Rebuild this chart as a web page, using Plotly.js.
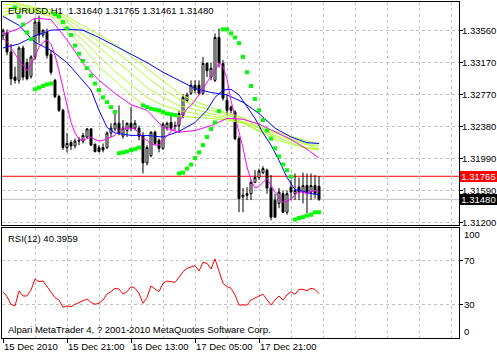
<!DOCTYPE html>
<html><head><meta charset="utf-8">
<script src="https://cdn.plot.ly/plotly-3.0.1.min.js"></script>
<style>html,body{margin:0;padding:0;background:#fff;}#chart{width:497px;height:355px;}</style>
</head><body><div id="chart"></div>
<script>
// ---- candle data (EURUSD, H1) ----
const open = [1.3350,1.3354,1.3330,1.3299,1.3295,1.3335,1.3317,1.3300,1.3324,1.3367,
1.3351,1.3354,1.3327,1.3295,1.3275,1.3258,1.3212,1.3218,1.3214,1.3221,
1.3220,1.3225,1.3235,1.3216,1.3212,1.3212,1.3212,1.3230,1.3235,1.3242,
1.3226,1.3233,1.3242,1.3236,1.3236,1.3227,1.3193,1.3202,1.3231,1.3221,
1.3211,1.3236,1.3243,1.3239,1.3239,1.3252,1.3270,1.3279,1.3289,1.3289,
1.3279,1.3316,1.3299,1.3295,1.3348,1.3316,1.3270,1.3262,1.3256,1.3223,
1.3151,1.3155,1.3155,1.3169,1.3175,1.3181,1.3184,1.3162,1.3147,1.3143,
1.3155,1.3132,1.3163,1.3155,1.3163,1.3157,1.3165,1.3157,1.3165,1.31640];
const high = [1.3359,1.3358,1.3340,1.3312,1.3337,1.3338,1.3322,1.3326,1.3372,1.3375,
1.3358,1.3359,1.3332,1.3297,1.3277,1.3260,1.3230,1.3221,1.3223,1.3225,
1.3230,1.3236,1.3236,1.3217,1.3215,1.3217,1.3232,1.3242,1.3254,1.3264,
1.3246,1.3243,1.3262,1.3246,1.3239,1.3231,1.3215,1.3232,1.3233,1.3223,
1.3243,1.3244,1.3252,1.3244,1.3257,1.3278,1.3280,1.3295,1.3295,1.3295,
1.3324,1.3317,1.3317,1.3353,1.3359,1.3320,1.3277,1.3264,1.3258,1.3226,
1.3162,1.3163,1.3172,1.3184,1.3186,1.3189,1.3186,1.3178,1.3155,1.3162,
1.3159,1.3159,1.3172,1.3180,1.3175,1.3181,1.3180,1.3180,1.3178,1.31765];
const low = [1.3345,1.3326,1.3289,1.3291,1.3291,1.3295,1.3295,1.3297,1.3320,1.3341,
1.3348,1.3322,1.3302,1.3273,1.3256,1.3209,1.3206,1.3209,1.3211,1.3215,
1.3217,1.3223,1.3214,1.3206,1.3206,1.3206,1.3210,1.3225,1.3232,1.3227,
1.3223,1.3225,1.3232,1.3233,1.3221,1.3180,1.3190,1.3200,1.3215,1.3206,
1.3209,1.3233,1.3233,1.3233,1.3230,1.3248,1.3268,1.3277,1.3279,1.3277,
1.3277,1.3299,1.3295,1.3293,1.3311,1.3270,1.3252,1.3254,1.3221,1.3132,
1.3132,1.3147,1.3147,1.3168,1.3172,1.3179,1.3155,1.3122,1.3125,1.3137,
1.3131,1.3129,1.3147,1.3147,1.3147,1.3143,1.3131,1.3147,1.3149,1.31461];
const close = [1.3357,1.3330,1.3297,1.3295,1.3335,1.3299,1.3297,1.3324,1.3367,1.3351,
1.3357,1.3326,1.3305,1.3275,1.3258,1.3212,1.3217,1.3214,1.3220,1.3220,
1.3227,1.3235,1.3215,1.3207,1.3207,1.3209,1.3230,1.3236,1.3242,1.3230,
1.3236,1.3242,1.3236,1.3242,1.3226,1.3193,1.3212,1.3231,1.3217,1.3211,
1.3241,1.3242,1.3236,1.3238,1.3254,1.3274,1.3277,1.3289,1.3283,1.3279,
1.3316,1.3307,1.3310,1.3348,1.3316,1.3273,1.3258,1.3258,1.3223,1.3149,
1.3153,1.3153,1.3169,1.3175,1.3183,1.3186,1.3162,1.3126,1.3126,1.3157,
1.3132,1.3155,1.3157,1.3159,1.3157,1.3165,1.3155,1.3165,1.3155,1.31480];

// ---- moving averages ----
const maBars = [0,4,8,12,16,20,24,28,32,36,40,44,48,52,56,60,64,68,72,76,79];
const blueSlow = [1.3335,1.3340,1.3350,1.3357,1.3358,1.3357,1.3348,1.3338,1.3328,1.3317,1.3305,1.3295,1.3285,1.3280,1.3277,1.3268,1.3254,1.3236,1.3225,1.3218,1.3217];
const magentaSlow = [1.3352,1.3359,1.3372,1.3370,1.3345,1.3316,1.3295,1.3279,1.3265,1.3258,1.3237,1.3231,1.3233,1.3239,1.3248,1.3247,1.3241,1.3232,1.3222,1.3210,1.3199];
const green1 = [1.3393,1.3390,1.3385,1.3382,1.3374,1.3363,1.3352,1.3340,1.3325,1.3310,1.3295,1.3279,1.3269,1.3262,1.3254,1.3249,1.3239,1.3232,1.3226,1.3220,1.3216];
const green2 = [1.3389,1.3388,1.3383,1.3379,1.3371,1.3357,1.3343,1.3331,1.3316,1.3299,1.3284,1.3272,1.3264,1.3258,1.3252,1.3247,1.3237,1.3230,1.3223,1.3217,1.3214];
const green3 = [1.3384,1.3385,1.3382,1.3378,1.3367,1.3351,1.3335,1.3319,1.3304,1.3286,1.3274,1.3264,1.3259,1.3254,1.3249,1.3244,1.3236,1.3227,1.3221,1.3215,1.3211];
const green4 = [1.3379,1.3383,1.3380,1.3377,1.3362,1.3345,1.3325,1.3306,1.3290,1.3274,1.3264,1.3258,1.3254,1.3251,1.3247,1.3243,1.3233,1.3225,1.3218,1.3212,1.3210];
const green5 = [1.3375,1.3380,1.3379,1.3374,1.3356,1.3336,1.3312,1.3294,1.3277,1.3262,1.3253,1.3251,1.3249,1.3248,1.3246,1.3242,1.3232,1.3222,1.3216,1.3211,1.3209];

const blueFastBars = [0,4,8,12,16,20,22,24,26,28,32,36,40,44,48,51,53,55,57,59,61,63,65,67,69,71,73,75,77,79];
const blueFast = [1.3374,1.3363,1.3342,1.3332,1.3317,1.3295,1.3283,1.3258,1.3237,1.3230,1.3227,1.3227,1.3225,1.3232,1.3243,1.3258,1.3274,1.3283,1.3284,1.3277,1.3262,1.3248,1.3230,1.3215,1.3196,1.3175,1.3160,1.3158,1.3155,1.3154];

const magentaFast = [1.3347,1.3342,1.3335,1.3327,1.3320,1.3314,1.3307,1.3314,1.3326,1.3336,
1.3342,1.3345,1.3340,1.3326,1.3307,1.3285,1.3264,1.3243,1.3230,1.3222,
1.3221,1.3223,1.3225,1.3222,1.3220,1.3221,1.3223,1.3225,1.3227,1.3233,
1.3236,1.3236,1.3236,1.3235,1.3230,1.3223,1.3221,1.3217,1.3215,1.3215,
1.3221,1.3227,1.3232,1.3237,1.3243,1.3252,1.3260,1.3264,1.3270,1.3277,
1.3285,1.3293,1.3300,1.3307,1.3317,1.3312,1.3297,1.3270,1.3252,1.3231,
1.3212,1.3188,1.3172,1.3162,1.3164,1.3169,1.3174,1.3165,1.3157,1.3151,
1.3144,1.3146,1.3148,1.3154,1.3157,1.3157,1.3155,1.3158,1.3159,1.3157];

// ---- parabolic SAR ----
const sar = [null,null,null,1.3385,1.3374,1.3364,1.3354,1.3346,1.3284,1.3286,
1.3288,1.3290,1.3291,1.3377,1.3374,1.3367,1.3359,1.3351,1.3338,1.3328,
1.3319,1.3310,1.3301,1.3291,1.3283,1.3274,1.3268,1.3262,1.3256,1.3205,
1.3206,1.3207,1.3209,1.3210,1.3212,1.3264,1.3262,1.3260,1.3259,1.3258,
1.3256,1.3254,1.3253,1.3252,1.3180,1.3181,1.3186,1.3191,1.3199,1.3206,
1.3215,1.3225,1.3235,1.3243,1.3257,1.3358,1.3358,1.3353,1.3348,1.3341,
1.3324,1.3305,1.3288,1.3272,1.3258,1.3246,1.3233,1.3223,1.3211,1.3201,
1.3191,1.3184,1.3176,1.3123,1.3125,1.3126,1.3128,1.3129,1.3132,1.3132];

// ---- RSI(12) ----
const rsi = [42.1,37.6,30.6,29.1,42.7,38.2,38.2,43.6,53.6,51.2,
51.8,46.7,42.7,36.7,34.5,27.9,29.1,28.5,30.6,32.4,
33.6,35.5,32.4,30.6,31.5,34.5,40.0,42.1,45.2,44.5,
40.0,42.1,46.7,45.2,40.6,31.5,36.7,47.3,44.5,42.1,
49.7,51.8,51.2,50.6,55.2,60.3,63.3,64.8,65.8,60.9,
68.8,67.9,62.7,71.8,59.7,49.7,46.7,45.2,39.1,30.0,
30.0,30.0,34.5,36.7,38.2,39.7,34.5,30.0,34.5,38.2,
34.5,39.1,42.1,39.7,44.2,44.2,43.0,45.2,44.2,40.3959];

// ---- axis labels ----
const priceTicks = [1.31200,1.31590,1.31990,1.32380,1.32770,1.33170,1.33560];
const timeLabelBars = [0,16,32,48,64];
const timeLabels = ['15 Dec 2010','15 Dec 21:00','16 Dec 13:00','17 Dec 05:00','17 Dec 21:00'];
const rsiTicks = [30,70];
const rsiEdgeLabels = ['100','0'];
const rsiEdgeLabelPos = [94,5.5];
const symbol = 'EURUSD,H1';

const bar = open.map((_, i) => i);
const n = bar.length - 1;
const FONT = '"Liberation Sans", Arial, sans-serif';
const TF = {family:FONT, size:9.5, color:'#000'};
const GRID = '#c0c0c0';

function line(x, y, color) {
  return {type:'scatter', mode:'lines', x:x, y:y, xaxis:'x', yaxis:'y',
          line:{color:color, width:1}, hoverinfo:'skip'};
}

const traces = [
  {type:'candlestick', x:bar, open:open, high:high, low:low, close:close, xaxis:'x', yaxis:'y',
   increasing:{line:{color:'#000', width:1}, fillcolor:'#fff'},
   decreasing:{line:{color:'#000', width:1}, fillcolor:'#000'},
   whiskerwidth:0, hoverinfo:'skip'},
  line(maBars, green1, '#adff2f'),
  line(maBars, green2, '#adff2f'),
  line(maBars, green3, '#adff2f'),
  line(maBars, green4, '#adff2f'),
  line(maBars, green5, '#adff2f'),
  line(maBars, blueSlow, '#0000ff'),
  line(blueFastBars, blueFast, '#0000ff'),
  line(maBars, magentaSlow, '#ff00ff'),
  line(bar, magentaFast, '#ff00ff'),
  {type:'scatter', mode:'markers', x:bar, y:sar, xaxis:'x', yaxis:'y',
   marker:{symbol:'square', size:4, color:'#00ff00', line:{width:0}}, hoverinfo:'skip'},
  {type:'scatter', mode:'lines', x:bar, y:rsi, xaxis:'x2', yaxis:'y2',
   line:{color:'#ff0000', width:1}, hoverinfo:'skip'}
];

const xRange = [-0.25, 114];
const commonX = {range:xRange, showline:true, mirror:true, linecolor:'#000', linewidth:1,
  zeroline:false, fixedrange:true, showgrid:true, gridcolor:GRID, griddash:'3px,3px', gridwidth:1};

// right-hand axis labels as text placed at the axis values
const lab = {xref:'paper', x:1, xanchor:'left', yanchor:'middle', showarrow:false, font:TF, borderpad:0, borderwidth:0};
const annotations = [];
priceTicks.forEach(v => annotations.push(Object.assign({}, lab, {yref:'y', y:v, xshift:3, text:v.toFixed(5)})));
rsiTicks.forEach(v => annotations.push(Object.assign({}, lab, {yref:'y2', y:v, xshift:5, text:String(v)})));
rsiEdgeLabels.forEach((t, k) => annotations.push(Object.assign({}, lab, {yref:'y2', y:rsiEdgeLabelPos[k], xshift:5, text:t})));
annotations.push(
  Object.assign({}, lab, {yref:'y', y:high[n], xshift:1, text:high[n].toFixed(5), bgcolor:'#ff0000',
    font:{family:FONT, size:9.5, color:'#fff'}, width:37, height:11, align:'center'}),
  Object.assign({}, lab, {yref:'y', y:close[n], xshift:1, text:close[n].toFixed(5), bgcolor:'#000000',
    font:{family:FONT, size:9.5, color:'#fff'}, width:37, height:11, align:'center'}),
  {xref:'paper', yref:'paper', x:0, y:1, xanchor:'left', yanchor:'top', xshift:4, yshift:-1, showarrow:false, font:TF,
   text:symbol + '  ' + [open[n],high[n],low[n],close[n]].map(v => v.toFixed(5)).join(' ')},
  {xref:'paper', yref:'paper', x:0, y:0.3274, xanchor:'left', yanchor:'top', xshift:4, yshift:-3, showarrow:false, font:TF,
   text:'RSI(12) ' + rsi[n].toFixed(4)},
  {xref:'paper', yref:'paper', x:0, y:0, xanchor:'left', yanchor:'bottom', xshift:4, yshift:1, showarrow:false, font:TF,
   text:'Alpari MetaTrader 4, ? 2001-2010 MetaQuotes Software Corp.'}
);

const layout = {
  width:497, height:355,
  margin:{l:2, r:38, t:2, b:17, pad:0},
  paper_bgcolor:'#fff', plot_bgcolor:'#fff',
  showlegend:false,
  font:TF,
  xaxis:Object.assign({}, commonX, {domain:[0,1], anchor:'y', tickmode:'linear', tick0:0, dtick:8,
     showticklabels:false, ticks:'', rangeslider:{visible:false}}),
  yaxis:{domain:[0.3363,1], anchor:'x', side:'right', range:[1.31163,1.33918],
     tickmode:'array', tickvals:priceTicks, showticklabels:false, ticks:'outside', ticklen:3, tickcolor:'#000',
     showgrid:true, gridcolor:GRID, griddash:'3px,3px',
     showline:true, mirror:true, linecolor:'#000', linewidth:1, zeroline:false, fixedrange:true},
  xaxis2:Object.assign({}, commonX, {domain:[0,1], anchor:'y2', tickmode:'array',
     tickvals:timeLabelBars, ticktext:timeLabels, ticks:'outside', ticklen:4, tickcolor:'#000',
     tickangle:0, ticklabelposition:'outside right', tickfont:TF,
     minor:{tickmode:'linear', tick0:0, dtick:8, showgrid:true, gridcolor:GRID, griddash:'3px,3px', ticks:''}}),
  yaxis2:{domain:[0,0.3274], anchor:'x2', side:'right', range:[0,100],
     tickmode:'array', tickvals:rsiTicks, showticklabels:false, ticks:'outside', ticklen:3, tickcolor:'#000',
     showgrid:true, gridcolor:GRID, griddash:'3px,3px',
     showline:true, mirror:true, linecolor:'#000', linewidth:1, zeroline:false, fixedrange:true},
  shapes:[
    {type:'line', xref:'paper', x0:0, x1:1, yref:'y', y0:high[n], y1:high[n], line:{color:'#ff0000', width:1}, layer:'below'},
    {type:'line', xref:'paper', x0:0, x1:1, yref:'y', y0:close[n], y1:close[n], line:{color:'#c0c0c0', width:1}, layer:'below'}
  ],
  annotations:annotations
};

Plotly.newPlot('chart', traces, layout, {staticPlot:true, displayModeBar:false});
</script>
</body></html>
